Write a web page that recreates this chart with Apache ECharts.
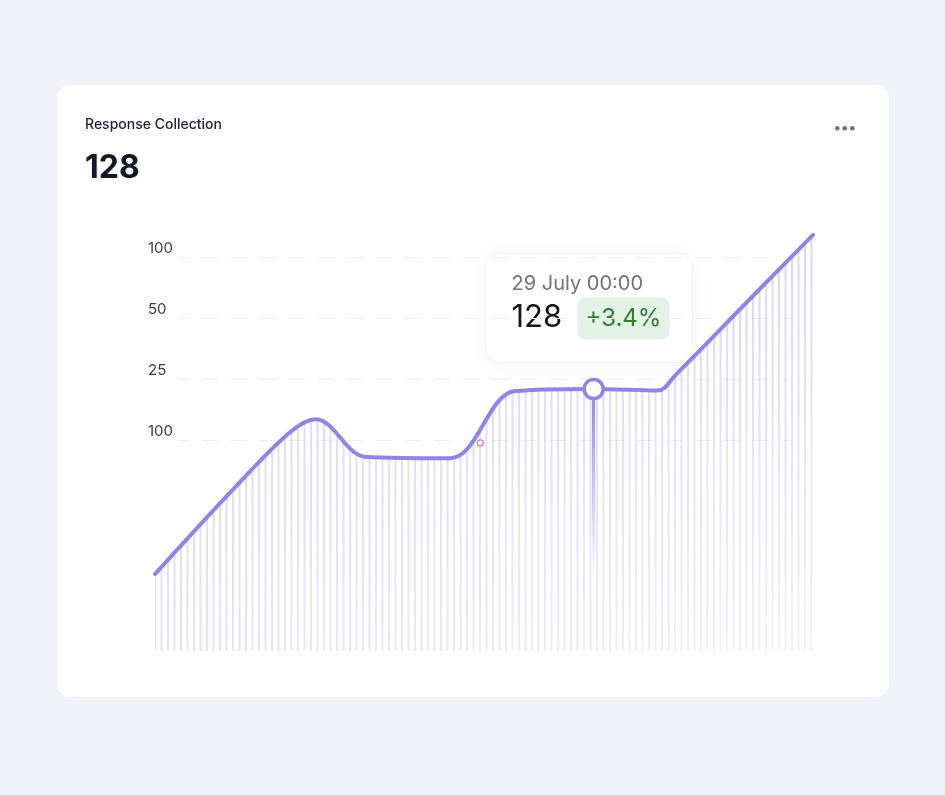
<!DOCTYPE html>
<html>
<head>
<meta charset="utf-8">
<style>
  html, body { margin: 0; padding: 0; background: #eff3f8; }
  #card {
    position: absolute; left: 57px; top: 85px; width: 832px; height: 612px;
    background: #ffffff; border-radius: 14px;
  }
  #chart { position: absolute; left: 0; top: 0; width: 945px; height: 795px; }
</style>
<script src="https://cdn.jsdelivr.net/npm/echarts@6/dist/echarts.min.js"></script>
</head>
<body>
<div id="card"></div>
<div id="chart"></div>
<script>
    // points
    var times = [
        '2024-07-09 00:00', '2024-07-12 16:00', '2024-07-15 04:00', '2024-07-16 08:00',
        '2024-07-18 15:00', '2024-07-22 11:00', '2024-07-25 10:00', '2024-07-29 00:00',
        '2024-07-31 22:00', '2024-08-01 18:00', '2024-08-05 03:00', '2024-08-08 00:00'
    ];
    var values = [18.1, 32.4, 41.4, 43.5, 37.3, 37.1, 48.1, 48.45, 48.2, 50.8, 63.2, 73.7];

    var yTickValues = [40, 50, 60, 70];
    var yTickLabels = ['100', '25', '50', '100'];

    var markIndex = 7;          // 29 July 00:00
    var tooltipValue = '128';
    var tooltipChange = '+3.4%';
    var headerValue = '128';
    var strayPoint = ['2024-07-23 20:00', 39.6];

    var lineColor = '#8f85e9';
    var font = 'Inter, "Noto Sans", sans-serif';

    function stripeTexture() {
        var c = document.createElement('canvas');
        c.width = 945;
        c.height = 795;
        var ctx = c.getContext('2d');
        for (var x = 11 - 13; x < 945; x += 6.5) {
            var k = Math.max(0, Math.min(1, (x - 155) / 658));
            var g = ctx.createLinearGradient(0, 230, 0, 652);
            g.addColorStop(0, 'rgba(143,133,233,0.34)');
            g.addColorStop(1, 'rgba(143,133,233,' + (0.24 - 0.13 * k) + ')');
            ctx.fillStyle = g;
            ctx.fillRect(x, 0, 2, 795);
        }
        return c;
    }

    var data = times.map(function (t, i) { return [t, values[i]]; });
    var markTime = times[markIndex];
    var markValue = values[markIndex];
    var markLabel = echarts.time.format(markTime, '{d} {MMMM} {HH}:{mm}', false);

    var chart = echarts.init(document.getElementById('chart'), null, {renderer: 'canvas'});
    chart.setOption({
        animation: false,
        backgroundColor: 'transparent',
        title: {
            left: 85,
            top: 118,
            padding: 0,
            text: 'Response Collection',
            textStyle: {fontFamily: font, fontSize: 14, fontWeight: 500, color: '#1b2133'},
            subtext: headerValue,
            subtextStyle: {fontFamily: font, fontSize: 32, fontWeight: 700, color: '#111827'},
            itemGap: 20
        },
        grid: [
            {left: 155, right: 132, top: 227, bottom: 144},
            {left: 180, right: 155, top: 227, bottom: 144}
        ],
        xAxis: [
            {type: 'time', gridIndex: 0, min: times[0], max: times[times.length - 1], show: false},
            {type: 'value', gridIndex: 1, show: false}
        ],
        yAxis: [
            {type: 'value', gridIndex: 0, min: 5.5, max: 75, show: false},
            {
                type: 'value', gridIndex: 1, min: 5.5, max: 75,
                axisLine: {show: false},
                axisTick: {show: false, customValues: yTickValues},
                axisLabel: {
                    customValues: yTickValues,
                    align: 'left',
                    margin: 32,
                    verticalAlign: 'bottom',
                    padding: [0, 0, 2, 0],
                    fontFamily: font,
                    fontSize: 15,
                    color: '#3d3d3d',
                    formatter: function (v) {
                        return yTickLabels[yTickValues.indexOf(v)];
                    }
                },
                splitLine: {
                    show: true,
                    lineStyle: {type: [16, 13], dashOffset: 7, color: '#efefef', width: 1}
                }
            }
        ],
        series: [{
            type: 'line',
            xAxisIndex: 0,
            yAxisIndex: 0,
            data: data,
            smooth: 0.35,
            showSymbol: false,
            lineStyle: {color: lineColor, width: 4, cap: 'round'},
            areaStyle: {color: {image: stripeTexture(), repeat: 'no-repeat'}, opacity: 1},
            emphasis: {disabled: true},
            markLine: {
                silent: true,
                z: 4,
                symbol: 'none',
                label: {show: false},
                lineStyle: {
                    type: 'solid',
                    width: 3,
                    color: {
                        type: 'linear', x: 0, y: 0, x2: 0, y2: 1,
                        colorStops: [
                            {offset: 0, color: lineColor},
                            {offset: 1, color: 'rgba(143,133,233,0)'}
                        ]
                    }
                },
                data: [[{coord: [markTime, markValue]}, {coord: [markTime, 18]}]]
            },
            markPoint: {
                silent: true,
                z: 6,
                label: {show: false},
                data: [
                    {
                        coord: [markTime, markValue], symbol: 'circle', symbolSize: 19,
                        itemStyle: {color: '#ffffff', borderColor: lineColor, borderWidth: 3.5}
                    },
                    {
                        coord: strayPoint, symbol: 'circle', symbolSize: 6,
                        itemStyle: {color: '#ffffff', borderColor: '#f06cc4', borderWidth: 1.2}
                    }
                ]
            }
        }],
        graphic: [
            {
                type: 'group', left: 835, top: 126,
                children: [0, 1, 2].map(function (i) {
                    return {
                        type: 'circle', shape: {cx: 3 + i * 7.5, cy: 2.5, r: 2.3},
                        style: {fill: '#6b7280'}
                    };
                })
            },
            {
                type: 'group', left: 485, top: 253, z: 100,
                children: [
                    {
                        type: 'rect', shape: {x: 0, y: 0, width: 207, height: 109, r: 14},
                        style: {
                            fill: '#ffffff', stroke: '#f2f2f2', lineWidth: 1,
                            shadowBlur: 18, shadowColor: 'rgba(0,0,0,0.06)', shadowOffsetY: 2
                        }
                    },
                    {
                        type: 'text', x: 26, y: 20,
                        style: {text: markLabel, font: '400 20px ' + font, fill: '#737373'}
                    },
                    {
                        type: 'text', x: 26, y: 49,
                        style: {text: tooltipValue, font: '400 31px ' + font, fill: '#151515'}
                    },
                    {
                        type: 'rect', shape: {x: 92, y: 44, width: 92, height: 42, r: 8},
                        style: {fill: '#e2f2e4'}
                    },
                    {
                        type: 'text', x: 138, y: 65,
                        style: {
                            text: tooltipChange, font: '400 24px ' + font, fill: '#2e7d32',
                            align: 'center', verticalAlign: 'middle'
                        }
                    }
                ]
            }
        ]
    });
</script>
</body>
</html>
